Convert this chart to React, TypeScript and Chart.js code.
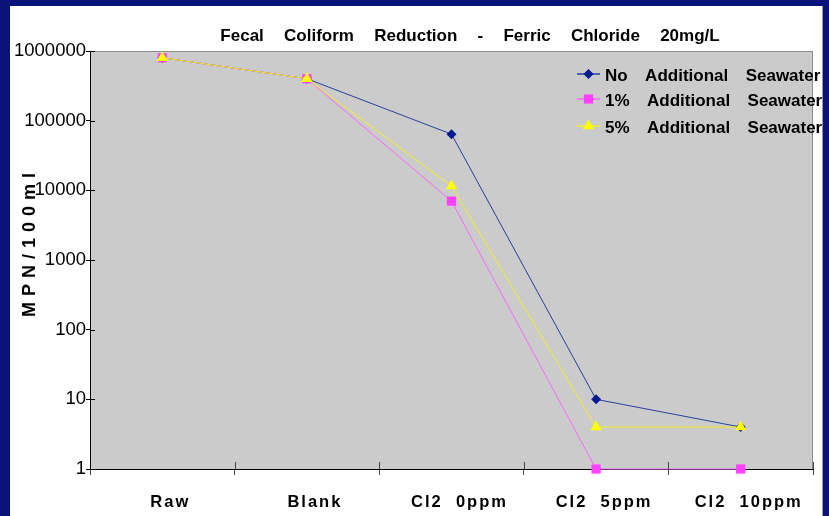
import React, { useEffect, useRef } from "react";
import { Chart, registerables } from "chart.js";

Chart.register(...registerables);

const categories = ["Raw", "Blank", "Cl2  0ppm", "Cl2  5ppm", "Cl2  10ppm"];
const seriesNames = [
  "No  Additional  Seawater",
  "1%  Additional  Seawater",
  "5%  Additional  Seawater",
];
const noSeawater = [800000, 400000, 64000, 10, 4];
const onePct = [800000, 400000, 7000, 1, 1];
const fivePct = [800000, 400000, 11500, 4, 4];
const yTicks = [1, 10, 100, 1000, 10000, 100000, 1000000];
const titleText = "Fecal  Coliform  Reduction  -  Ferric  Chloride  20mg/L";
const yTitle = "MPN/100ml";

const NAVY = "#08137a";
const FONT = "'Liberation Sans', Arial, sans-serif";

const seriesStyles = [
  { line: "#2a3f9c", fill: "#001c8e", style: "rectRot", radius: 5 },
  { line: "#ff66ff", fill: "#ff40ff", style: "rect", radius: 6.5 },
  { line: "#f2f020", fill: "#ffff00", style: "triangle", radius: 6.5 },
];

function drawMarker(ctx: CanvasRenderingContext2D, style: string, x: number, y: number, r: number, color: string) {
  ctx.save();
  ctx.fillStyle = color;
  ctx.beginPath();
  if (style === "rectRot") {
    ctx.moveTo(x, y - r);
    ctx.lineTo(x + r, y);
    ctx.lineTo(x, y + r);
    ctx.lineTo(x - r, y);
  } else if (style === "rect") {
    const s = r * Math.SQRT1_2;
    ctx.rect(x - s, y - s, 2 * s, 2 * s);
  } else {
    ctx.moveTo(x, y - r);
    ctx.lineTo(x + r * 0.866, y + r * 0.5);
    ctx.lineTo(x - r * 0.866, y + r * 0.5);
  }
  ctx.closePath();
  ctx.fill();
  ctx.restore();
}

const framePlugin = {
  id: "frame",
  afterUpdate(chart: any) {
    // spaced lettering for the category labels only
    const xs = chart.scales.x;
    if (xs && !xs.__spaced) {
      const orig = xs.drawLabels;
      xs.drawLabels = function (area: any) {
        const c = this.ctx;
        const prev = (c as any).letterSpacing;
        (c as any).letterSpacing = "2px";
        orig.call(this, area);
        (c as any).letterSpacing = prev || "0px";
      };
      xs.__spaced = true;
    }
  },
  beforeDraw(chart: any) {
    const { ctx, chartArea } = chart;
    (ctx as any).letterSpacing = "0px";
    ctx.save();
    ctx.fillStyle = NAVY;
    ctx.fillRect(0, 0, chart.width, chart.height);
    ctx.fillStyle = "#ffffff";
    ctx.fillRect(10, 6, 812, chart.height - 6);
    ctx.fillStyle = "#9a9a9a";
    ctx.fillRect(822, 6, 1, chart.height - 6);
    ctx.fillStyle = "#cbcbcb";
    ctx.fillRect(chartArea.left, chartArea.top, chartArea.right - chartArea.left, chartArea.bottom - chartArea.top);
    ctx.strokeStyle = "#8c8c8c";
    ctx.lineWidth = 1;
    ctx.beginPath();
    ctx.moveTo(chartArea.left, chartArea.top + 0.5);
    ctx.lineTo(chartArea.right, chartArea.top + 0.5);
    ctx.moveTo(chartArea.right - 0.5, chartArea.top);
    ctx.lineTo(chartArea.right - 0.5, chartArea.bottom);
    ctx.stroke();
    ctx.restore();
  },
  afterDraw(chart: any) {
    const { ctx, chartArea, scales } = chart;
    ctx.save();
    (ctx as any).letterSpacing = "0px";
    // inner tick parts
    ctx.strokeStyle = "#000000";
    ctx.lineWidth = 1;
    ctx.beginPath();
    for (const v of yTicks) {
      const y = Math.round(scales.y.getPixelForValue(v)) + 0.5;
      ctx.moveTo(chartArea.left, y);
      ctx.lineTo(chartArea.left + 5, y);
    }
    ctx.stroke();
    ctx.strokeStyle = "#444444";
    ctx.beginPath();
    for (let i = 1; i <= categories.length; i++) {
      const x = Math.round(scales.x.getPixelForValue(i - 0.5)) + 0.5;
      ctx.moveTo(x, chartArea.bottom);
      ctx.lineTo(x, chartArea.bottom - 7);
    }
    ctx.stroke();

    // title
    ctx.fillStyle = "#000000";
    ctx.font = `bold 17px ${FONT}`;
    ctx.textAlign = "center";
    ctx.textBaseline = "alphabetic";
    (ctx as any).wordSpacing = "5.4px";
    ctx.fillText(titleText, 470, 41);
    (ctx as any).wordSpacing = "0px";

    // y title
    ctx.save();
    ctx.translate(35, 242);
    ctx.rotate(-Math.PI / 2);
    ctx.font = `bold 18px ${FONT}`;
    (ctx as any).letterSpacing = "6px";
    ctx.fillText(yTitle, 0, 0);
    ctx.restore();

    // legend
    ctx.save();
    ctx.beginPath();
    ctx.rect(0, 0, 822, chart.height);
    ctx.clip();
    const rows = [74, 99, 126];
    seriesNames.forEach((name, i) => {
      const st = seriesStyles[i];
      const y = rows[i];
      ctx.strokeStyle = st.line;
      ctx.lineWidth = 1.5;
      ctx.beginPath();
      ctx.moveTo(577, y);
      ctx.lineTo(600, y);
      ctx.stroke();
      drawMarker(ctx, st.style, 588.5, y, st.radius, st.fill);
      ctx.fillStyle = "#000000";
      ctx.font = `bold 17px ${FONT}`;
      ctx.textAlign = "left";
      ctx.textBaseline = "alphabetic";
      (ctx as any).wordSpacing = "4px";
      ctx.fillText(name, 605, y + 7);
      (ctx as any).wordSpacing = "0px";
    });
    ctx.restore();
    ctx.restore();
  },
};

export default function App() {
  const ref = useRef<HTMLCanvasElement>(null);
  useEffect(() => {
    if (!ref.current) return;
    const datasets = [noSeawater, onePct, fivePct].map((d, i) => ({
      label: seriesNames[i],
      data: d,
      borderColor: seriesStyles[i].line,
      backgroundColor: seriesStyles[i].fill,
      pointBackgroundColor: seriesStyles[i].fill,
      pointBorderColor: seriesStyles[i].fill,
      pointBorderWidth: 0,
      pointStyle: seriesStyles[i].style,
      pointRadius: seriesStyles[i].radius,
      borderWidth: 1,
      tension: 0,
      clip: false as any,
      order: 3 - i,
    }));
    const chart = new Chart(ref.current, {
      type: "line",
      data: { labels: categories, datasets },
      plugins: [framePlugin],
      options: {
        responsive: false,
        animation: false,
        devicePixelRatio: 1,
        layout: { padding: { top: 51, right: 16, left: 0, bottom: 0 } },
        plugins: { legend: { display: false }, title: { display: false }, tooltip: { enabled: false } },
        scales: {
          x: {
            type: "category",
            offset: true,
            afterFit: (s: any) => { s.height = 47; },
            grid: { drawOnChartArea: false, drawTicks: true, tickLength: 6, color: "#444444", offset: true },
            border: { color: "#000000", width: 1 },
            ticks: { color: "#000000", font: { family: FONT, size: 16.5, weight: "bold" }, padding: 18, labelOffset: 8, maxRotation: 0, autoSkip: false },
          },
          y: {
            type: "logarithmic",
            min: 1,
            max: 1000000,
            afterFit: (s: any) => { s.width = 90; },
            afterBuildTicks: (s: any) => { s.ticks = yTicks.map((v) => ({ value: v })); },
            grid: { drawOnChartArea: false, drawTicks: true, tickLength: 4, color: "#000000" },
            border: { color: "#000000", width: 1 },
            ticks: { color: "#000000", font: { family: FONT, size: 18.5 }, padding: 0, callback: (v: any) => String(v) },
          },
        },
      },
    });
    return () => chart.destroy();
  }, []);
  return (
    <div style={{ position: "fixed", left: 0, top: 0, width: 829, height: 516 }}>
      <canvas ref={ref} width={829} height={516} style={{ display: "block" }} />
    </div>
  );
}
